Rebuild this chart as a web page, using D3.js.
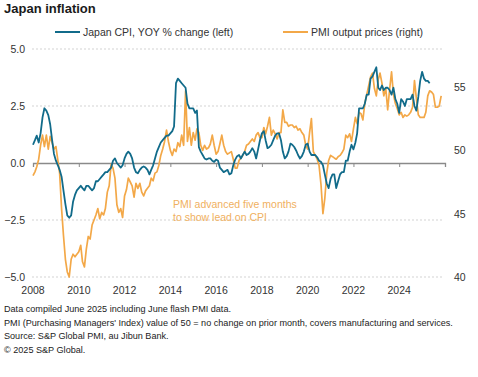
<!DOCTYPE html>
<html>
<head>
<meta charset="utf-8">
<script src="https://cdn.jsdelivr.net/npm/d3@7"></script>
<style>
  body { margin: 0; background: #fff; }
  svg { font-family: "Liberation Sans", Arial, sans-serif; }
</style>
</head>
<body>
<div id="chart"></div>
<script>
// data, monthly, first value = january 2008
let cpiStart = "2008-01";
let cpiValues = [
  0.8, 1.0, 1.2, 0.9, 1.3, 2.0, 2.4, 2.3, 2.1, 1.7, 1.0, 0.4,        // 2008
  0.1, -0.1, -0.3, -0.6, -1.2, -1.8, -2.3, -2.4, -2.3, -1.7, -1.4, -1.2, // 2009
  -1.1, -1.0, -1.1, -1.2, -1.0, -1.0, -1.1, -1.2, -1.1, -0.8, -0.8, -0.7, // 2010
  -0.6, -0.5, -0.4, -0.4, -0.3, -0.2, 0.1, 0.2, 0.0, -0.1, -0.2, -0.1,  // 2011
  0.2, 0.4, 0.5, 0.4, 0.2, -0.2, -0.4, -0.45, -0.3, -0.2, -0.15, -0.2,  // 2012
  -0.3, -0.5, -0.3, -0.1, 0.2, 0.5, 0.7, 0.9, 1.0, 1.1, 1.2, 1.2,       // 2013
  1.3, 1.4, 1.6, 3.5, 3.7, 3.6, 3.5, 3.4, 3.3, 2.6, 2.4, 2.4,           // 2014
  2.4, 2.2, 2.3, 0.7, 0.5, 0.35, 0.2, 0.15, 0.2, 0.2, 0.1, 0.05,        // 2015
  0.15, 0.1, -0.2, -0.3, -0.4, -0.35, -0.3, -0.5, -0.45, -0.1, 0.15, 0.3, // 2016
  0.35, 0.2, 0.35, 0.5, 0.35, 0.4, 0.5, 0.65, 0.5, 0.2, 0.6, 1.0,      // 2017
  1.3, 1.4, 1.0, 0.65, 0.7, 0.8, 1.0, 1.2, 1.3, 1.3, 1.0, 0.5,          // 2018
  0.2, 0.3, 0.5, 0.85, 0.8, 0.7, 0.55, 0.35, 0.2, 0.3, 0.5, 0.8,        // 2019
  0.85, 0.5, 0.35, 0.35, 0.35, 0.25, 0.1, 0.05, -0.1, -0.5, -0.9, -1.1, // 2020
  -0.7, -0.5, -0.5, -1.1, -0.8, -0.5, -0.4, -0.4, 0.1, 0.1, 0.5, 0.8,   // 2021
  0.6, 0.9, 1.3, 2.4, 2.4, 2.4, 2.6, 3.0, 3.0, 3.7, 3.8, 4.0,           // 2022
  4.2, 3.3, 3.2, 3.4, 3.2, 3.3, 3.3, 3.2, 3.0, 3.3, 2.8, 2.6,           // 2023
  2.2, 2.8, 2.7, 2.5, 2.8, 2.8, 2.8, 3.0, 2.5, 2.3, 2.9, 3.6,           // 2024
  4.0, 3.7, 3.6, 3.6, 3.5                                               // 2025
];

// pmi is already shifted five months forward (as plotted)
let pmiStart = "2008-01";
let pmiValues = [
  48.0, 48.3, 48.7, 49.3, 50.4, 51.2, 50.3, 51.2, 50.1, 51.1, 50.6, 50.1, // 2008
  50.3, 49.2, 48.2, 45.4, 43.3, 41.4, 40.4, 40.0, 41.4, 41.8, 41.6, 41.8, // 2009
  42.0, 42.5, 41.2, 40.8, 42.2, 43.2, 43.0, 44.1, 44.5, 44.9, 45.4, 44.6, // 2010
  45.1, 44.9, 45.4, 46.7, 47.2, 48.9, 48.6, 47.8, 45.7, 45.1, 45.4, 44.7, // 2011
  46.4, 46.9, 47.8, 47.5, 47.2, 46.3, 47.4, 47.0, 47.4, 46.7, 46.4, 46.8, // 2012
  47.0, 47.2, 47.8, 47.6, 48.2, 48.3, 48.8, 49.6, 50.1, 50.7, 51.6, 50.7, // 2013
  50.0, 49.6, 50.1, 49.9, 50.6, 50.3, 51.2, 50.4, 54.7, 50.7, 51.8, 50.4, // 2014
  51.4, 50.8, 51.7, 51.4, 50.4, 50.0, 50.4, 50.1, 50.2, 50.5, 51.2, 50.4, // 2015
  49.7, 49.9, 50.5, 51.2, 50.4, 49.9, 49.7, 49.8, 49.9, 49.3, 48.6, 48.6, // 2016
  49.2, 49.4, 49.6, 49.9, 50.4, 50.5, 50.7, 50.9, 50.7, 51.2, 51.4, 51.0, // 2017
  51.0, 51.8, 51.3, 51.9, 52.6, 51.2, 51.6, 51.3, 50.9, 51.4, 51.4, 53.2, // 2018
  52.2, 52.2, 51.9, 52.0, 52.0, 51.8, 51.9, 51.6, 51.7, 51.4, 51.2, 50.4, // 2019
  50.1, 51.4, 52.5, 49.9, 49.6, 49.3, 48.8, 47.3, 45.0, 46.2, 48.2, 49.2, // 2020
  49.6, 49.5, 49.4, 49.3, 49.5, 49.6, 49.8, 50.1, 51.2, 51.0, 51.3, 50.7, // 2021
  51.7, 52.6, 52.1, 53.0, 52.9, 52.4, 53.7, 54.4, 55.1, 55.8, 56.1, 54.9, // 2022
  54.3, 55.6, 56.1, 55.3, 54.3, 54.9, 53.2, 54.8, 56.2, 54.4, 53.7, 53.3, // 2023
  52.8, 53.0, 52.6, 52.8, 52.7, 52.8, 53.0, 53.4, 55.5, 54.1, 52.8, 52.6, // 2024
  52.6, 52.6, 53.0, 54.3, 54.7, 54.6, 54.4, 53.4, 53.4, 53.5, 54.3        // 2025
];

let yearLabels = [2008, 2010, 2012, 2014, 2016, 2018, 2020, 2022, 2024, 2026];
let leftTicks = [-5, -2.5, 0, 2.5, 5];
let rightTicks = [40, 45, 50, 55];

let legendLabels = ["Japan CPI, YOY % change (left)", "PMI output prices (right)"];
let noteLines = ["PMI advanced five months", "to show lead on CPI"];
let footnotes = [
  "Data compiled June 2025 including June flash PMI data.",
  "PMI (Purchasing Managers' Index) value of 50 = no change on prior month, covers manufacturing and services.",
  "Source: S&P Global PMI, au Jibun Bank.",
  "\u00a9 2025 S&P Global."
];

let blue = "#116b8a";
let orange = "#f3a848";

let w = 478, h = 377;
let plotLeft = 33, plotRight = 445, plotTop = 49, plotBottom = 277;

let viz = d3.select("#chart")
    .append("svg")
    .attr("width", w)
    .attr("height", h)
;

let parseMonth = d3.timeParse("%Y-%m");

// turn value lists into {date, value} rows
function toRows(start, values){
  let first = parseMonth(start);
  return values.map(function(v, i){
    return { date: d3.timeMonth.offset(first, i), value: v };
  });
}
let cpiData = toRows(cpiStart, cpiValues);
let pmiData = toRows(pmiStart, pmiValues);

let xScale = d3.scaleTime()
    .domain([new Date(2008, 0, 1), new Date(2026, 0, 1)])
    .range([plotLeft, plotRight]);
let yLeft = d3.scaleLinear().domain([-5, 5]).range([plotBottom, plotTop]);
let yRight = d3.scaleLinear().domain([40, 58]).range([plotBottom, plotTop]);

// title
viz.append("text")
    .attr("x", 4)
    .attr("y", 13)
    .attr("font-size", 13)
    .attr("font-weight", "bold")
    .attr("fill", "#1a1a1a")
    .text("Japan inflation")
;

// legend
let legendX = [55, 283];
let legendColors = [blue, orange];
legendLabels.forEach(function(label, i){
  viz.append("line")
      .attr("x1", legendX[i]).attr("x2", legendX[i] + 25)
      .attr("y1", 32).attr("y2", 32)
      .attr("stroke", legendColors[i])
      .attr("stroke-width", 2)
  ;
  viz.append("text")
      .attr("x", legendX[i] + 28)
      .attr("y", 35.5)
      .attr("font-size", 10.5)
      .attr("fill", "#333")
      .text(label)
  ;
});

// dashed gridlines (not at zero)
viz.append("g")
    .selectAll("line")
    .data(leftTicks.filter(function(d){ return d != 0; }))
    .enter()
    .append("line")
    .attr("x1", plotLeft - 1)
    .attr("x2", plotRight - 2)
    .attr("y1", function(d){ return yLeft(d); })
    .attr("y2", function(d){ return yLeft(d); })
    .attr("stroke", "#c8c8c8")
    .attr("stroke-width", 0.8)
    .attr("stroke-dasharray", "2,2")
;

// left axis labels
let yAxisLeft = d3.axisLeft(yLeft)
    .tickValues(leftTicks)
    .tickSize(0)
    .tickPadding(0)
    .tickFormat(d3.format(".1f"));
let leftGroup = viz.append("g")
    .attr("transform", "translate(25,0)")
    .call(yAxisLeft);
leftGroup.select(".domain").remove();
leftGroup.selectAll("text")
    .attr("font-size", 10.5)
    .attr("font-family", null)
    .attr("fill", "#333");

// right axis labels
let yAxisRight = d3.axisRight(yRight)
    .tickValues(rightTicks)
    .tickSize(0)
    .tickPadding(0);
let rightGroup = viz.append("g")
    .attr("transform", "translate(454,0)")
    .call(yAxisRight);
rightGroup.select(".domain").remove();
rightGroup.selectAll("text")
    .attr("font-size", 10.5)
    .attr("font-family", null)
    .attr("fill", "#333");

// zero line with ticks going down
let xAxis = d3.axisBottom(xScale)
    .tickValues(yearLabels.map(function(y){ return new Date(y, 0, 1); }))
    .tickSize(4)
    .tickFormat("");
let xGroup = viz.append("g")
    .attr("transform", "translate(0," + yLeft(0) + ")")
    .call(xAxis);
xGroup.select(".domain")
    .attr("stroke", "#8a8a8a")
    .attr("stroke-width", 1.3);
xGroup.selectAll(".tick line").attr("stroke", "#8a8a8a");

// year labels along the bottom
viz.append("g")
    .selectAll("text")
    .data(yearLabels.slice(0, -1))
    .enter()
    .append("text")
    .attr("x", function(d){ return xScale(new Date(d, 0, 1)); })
    .attr("y", 294)
    .attr("text-anchor", "middle")
    .attr("font-size", 10.5)
    .attr("fill", "#333")
    .text(function(d){ return d; })
;

// lines
let cpiLine = d3.line()
    .x(function(d){ return xScale(d.date); })
    .y(function(d){ return yLeft(d.value); });
let pmiLine = d3.line()
    .x(function(d){ return xScale(d.date); })
    .y(function(d){ return yRight(d.value); });

viz.append("path")
    .datum(pmiData)
    .attr("d", pmiLine)
    .attr("fill", "none")
    .attr("stroke", orange)
    .attr("stroke-width", 1.7)
    .attr("stroke-linejoin", "round")
;
viz.append("path")
    .datum(cpiData)
    .attr("d", cpiLine)
    .attr("fill", "none")
    .attr("stroke", blue)
    .attr("stroke-width", 1.8)
    .attr("stroke-linejoin", "round")
;

// annotation
noteLines.forEach(function(t, i){
  viz.append("text")
      .attr("x", 173)
      .attr("y", 207.5 + i * 13)
      .attr("font-size", 10.5)
      .attr("fill", "#f0b060")
      .text(t)
  ;
});

// footnotes
footnotes.forEach(function(t, i){
  viz.append("text")
      .attr("x", 4)
      .attr("y", 312 + i * 13.5)
      .attr("font-size", 9.1)
      .attr("fill", "#222")
      .text(t)
  ;
});
</script>
</body>
</html>
